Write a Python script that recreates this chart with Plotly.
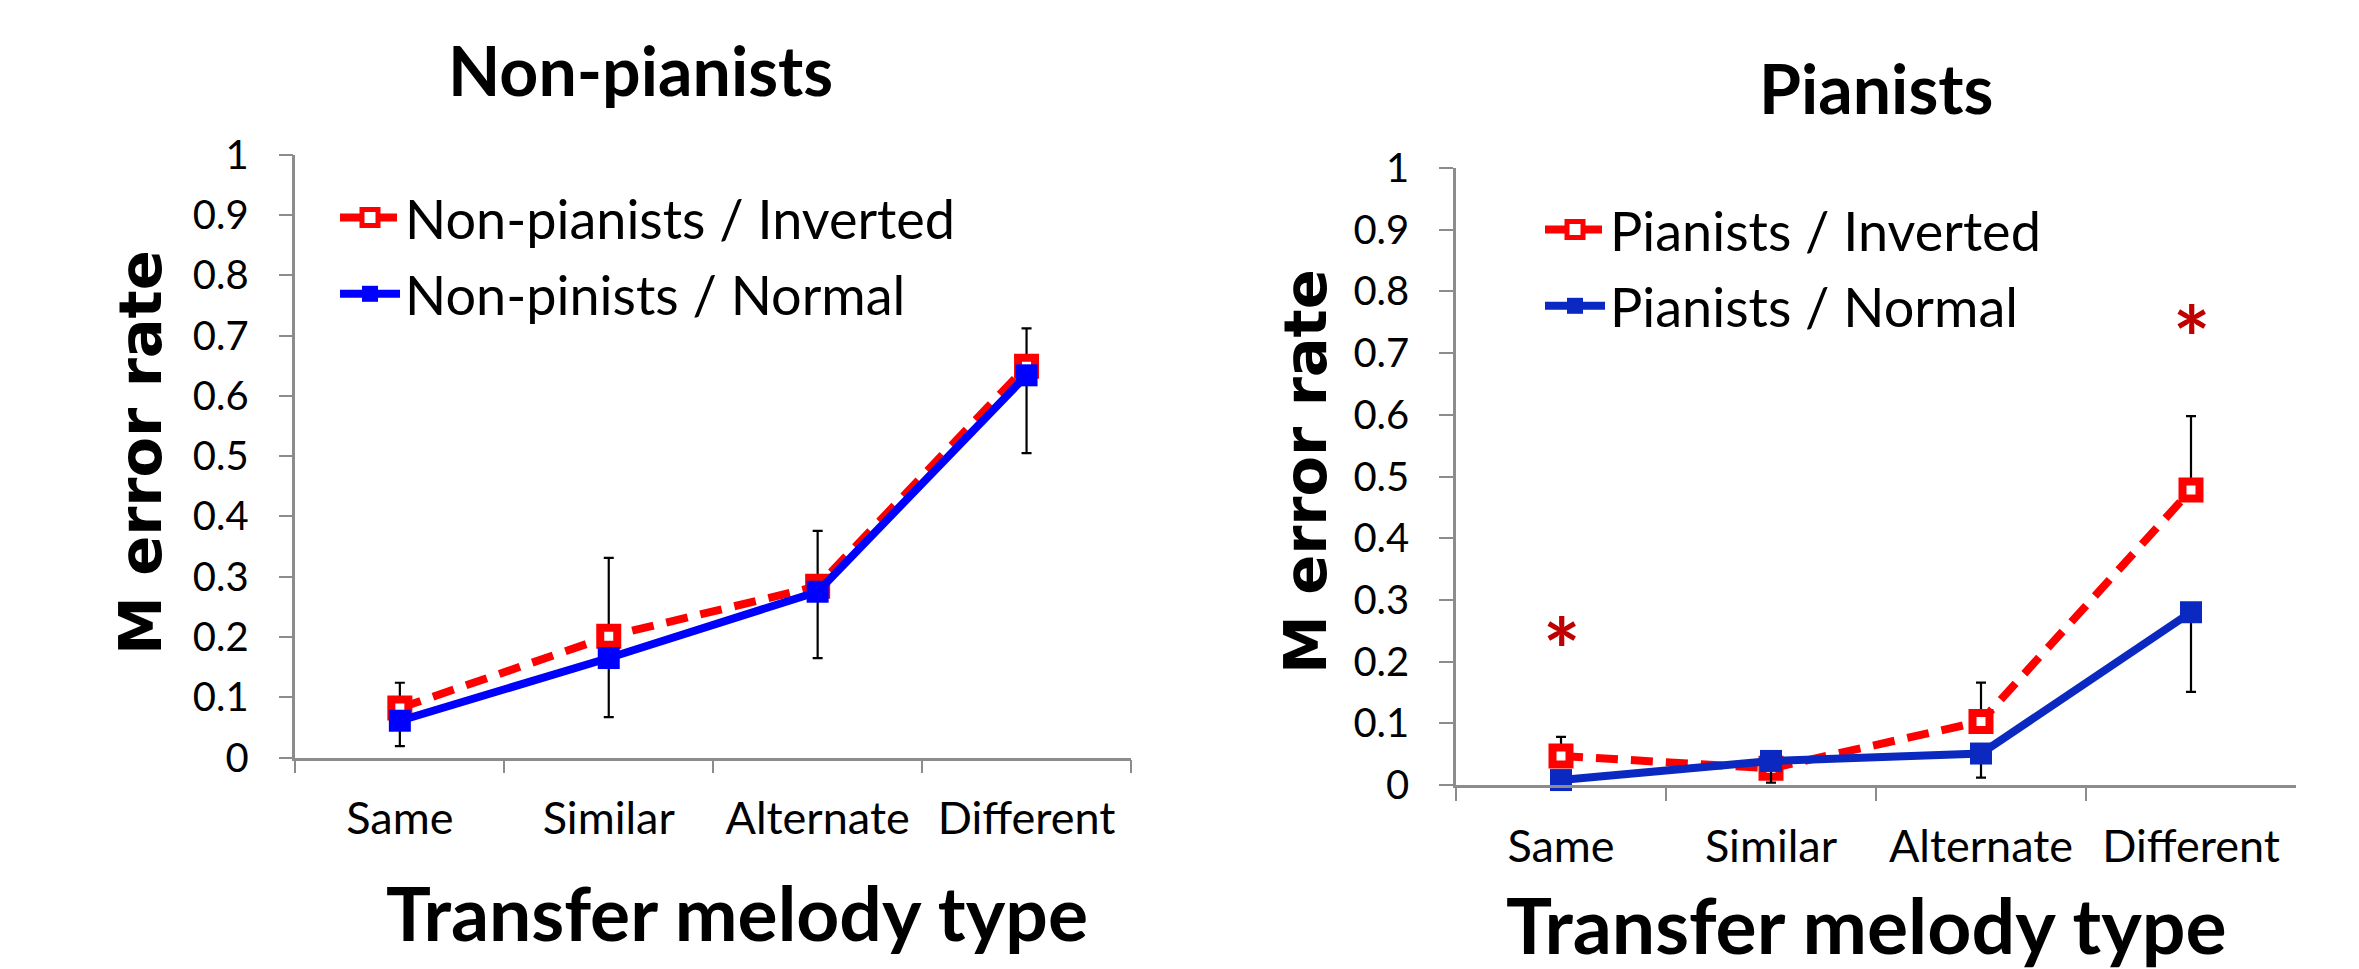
import plotly.graph_objects as go

# ---------------- data ----------------
categories = ["Same", "Similar", "Alternate", "Different"]
y_tick_vals = [0, 0.1, 0.2, 0.3, 0.4, 0.5, 0.6, 0.7, 0.8, 0.9, 1]
y_tick_text = ["0", "0.1", "0.2", "0.3", "0.4", "0.5", "0.6", "0.7", "0.8", "0.9", "1"]

# Non-pianists panel
np_inverted = [0.082, 0.201, 0.284, 0.649]
np_normal = [0.061, 0.165, 0.275, 0.634]
np_inverted_err_plus = [0.042, 0.130, 0.092, 0.063]
np_normal_err_minus = [0.042, 0.098, 0.110, 0.129]

# Pianists panel
p_inverted = [0.047, 0.027, 0.103, 0.478]
p_normal = [0.008, 0.039, 0.051, 0.280]
p_inverted_err_plus = [0.031, 0.008, 0.063, 0.120]
p_normal_err_minus = [0.006, 0.035, 0.039, 0.129]

# significance markers (Pianists panel)
sig_categories = ["Same", "Different"]
sig_y = [0.250, 0.755]

names_left = ["Non-pianists / Inverted", "Non-pinists / Normal"]
names_right = ["Pianists / Inverted", "Pianists / Normal"]

# ---------------- styling helpers ----------------
W, H = 2359, 969
def fx(p):
    return p / W
def fy(p):
    return 1 - p / H

RED = "#FF0000"
BLUE_L = "#0000FF"
BLUE_R = "#0B29C0"
AXIS_GRAY = "#8C8C8C"
FONT = "Lato"

fig = go.Figure()

def add_pair(xa, ya, inv, norm, plus, minus, names, blue, legend, grp):
    fig.add_trace(go.Scatter(
        x=categories, y=inv, name=names[0], xaxis=xa, yaxis=ya, legend=legend,
        legendgroup=grp + "a",
        mode="lines+markers", cliponaxis=False,
        line=dict(color=RED, width=8, dash="22px,13px"),
        marker=dict(symbol="square", size=17, color="white",
                    line=dict(color=RED, width=8)),
        error_y=dict(type="data", symmetric=False, array=plus,
                     arrayminus=[0] * len(plus), color="black",
                     thickness=2.2, width=5),
    ))
    fig.add_trace(go.Scatter(
        x=categories, y=norm, name=names[1], xaxis=xa, yaxis=ya, legend=legend,
        legendgroup=grp + "b",
        mode="lines+markers", cliponaxis=False,
        line=dict(color=blue, width=8),
        marker=dict(symbol="square", size=22, color=blue),
        error_y=dict(type="data", symmetric=False, array=[0] * len(minus),
                     arrayminus=minus, color="black", thickness=2.2, width=5),
    ))

add_pair("x", "y", np_inverted, np_normal, np_inverted_err_plus,
         np_normal_err_minus, names_left, BLUE_L, "legend", "L")
add_pair("x2", "y2", p_inverted, p_normal, p_inverted_err_plus,
         p_normal_err_minus, names_right, BLUE_R, "legend2", "R")

def xaxis_cfg(x0, x1, yanchor):
    return dict(
        domain=[fx(x0), fx(x1)], anchor=yanchor, type="category",
        categoryorder="array", categoryarray=categories, range=[-0.5, 3.5],
        showline=True, linecolor=AXIS_GRAY, linewidth=2.5,
        ticks="outside", tickson="boundaries", ticklen=13, tickwidth=2,
        tickcolor=AXIS_GRAY, showgrid=False, zeroline=False,
        tickfont=dict(family=FONT, size=45, color="black"),
        ticklabelstandoff=20, automargin=False,
    )

def yaxis_cfg(y0, y1, xanchor):
    return dict(
        domain=[fy(y0), fy(y1)], anchor=xanchor, range=[0, 1],
        tickvals=y_tick_vals, ticktext=y_tick_text,
        showline=True, linecolor=AXIS_GRAY, linewidth=2.5,
        ticks="outside", ticklen=14, tickwidth=2, tickcolor=AXIS_GRAY,
        showgrid=False, zeroline=False,
        tickfont=dict(family=FONT, size=40, color="black"),
        ticklabelstandoff=22, automargin=False,
    )

def paper_text(text, x, y, size, family=FONT, angle=0):
    return dict(text=text, x=fx(x), y=fy(y), xref="paper", yref="paper",
                xanchor="center", yanchor="middle", showarrow=False,
                textangle=angle, font=dict(family=family, size=size, color="black"))

annotations = [
    paper_text("<b>Non-pianists</b>", 640, 70, 68),
    paper_text("<b>Pianists</b>", 1876, 88, 68),
    paper_text("<b>Transfer melody type</b>", 737, 912, 75),
    paper_text("<b>Transfer melody type</b>", 1866, 924, 77),
    paper_text("<b>M error rate</b>", 140, 453, 59, "DejaVu Sans", -90),
    paper_text("<b>M error rate</b>", 1305, 472, 59, "DejaVu Sans", -90),
]
# significance asterisks
for c, v in zip(sig_categories, sig_y):
    annotations.append(dict(text="<b>*</b>", x=c, y=v, xref="x2", yref="y2",
                            xanchor="center", yanchor="middle",
                            showarrow=False, yshift=-18,
                            font=dict(family=FONT, size=88, color="#C00000")))

legend_common = dict(xanchor="left", yanchor="top", bgcolor="rgba(0,0,0,0)",
                     font=dict(family=FONT, size=54, color="black"),
                     itemwidth=60, tracegroupgap=3)

fig.update_layout(
    width=W, height=H, margin=dict(l=0, r=0, t=0, b=0),
    paper_bgcolor="white", plot_bgcolor="white",
    xaxis=xaxis_cfg(295.4, 1131, "y"),
    yaxis=yaxis_cfg(757.5, 154.7, "x"),
    xaxis2=xaxis_cfg(1456, 2296, "y2"),
    yaxis2=yaxis_cfg(785, 168, "x2"),
    annotations=annotations,
    legend=dict(x=fx(335), y=fy(176), **legend_common),
    legend2=dict(x=fx(1540), y=fy(188), **legend_common),
    showlegend=True,
)

fig.write_html("out.html", config={"displayModeBar": False},
               post_script="document.body.style.margin='0';document.body.style.overflow='hidden';")
